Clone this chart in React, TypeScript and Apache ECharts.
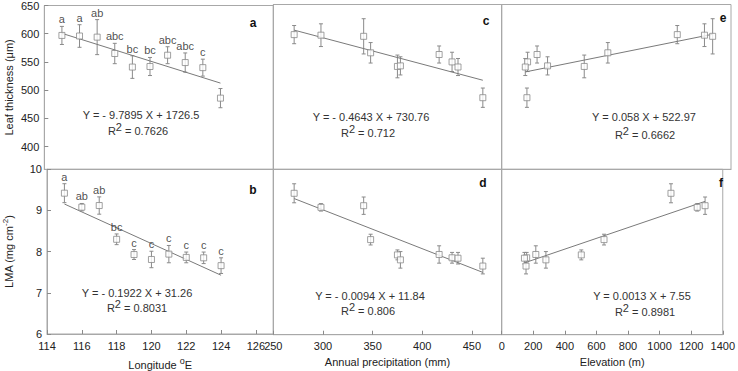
import React, { useEffect, useRef } from "react";
import * as echarts from "echarts";

// Sampling sites, ordered by longitude
const longitude = [115, 116, 117, 118, 119, 120, 121, 122, 123, 124];
const precipitation = [271, 298, 341, 348, 375, 378, 417, 430, 436, 461];
const elevation = [1072, 1238, 1288, 648, 504, 280, 216, 158, 144, 154];

// Leaf thickness (µm): mean and standard error
const thickness = [597, 596, 594, 565, 541, 542, 562, 549, 540, 486];
const thicknessErr = [16, 20, 31, 18, 20, 16, 15, 17, 15, 17];
const thicknessLetters = ["a", "a", "ab", "abc", "bc", "bc", "abc", "abc", "c", ""];

// Leaf mass per area (mg cm-2): mean and standard error
const lma = [9.42, 9.08, 9.12, 8.3, 7.93, 7.81, 7.94, 7.86, 7.85, 7.66];
const lmaErr = [0.23, 0.09, 0.21, 0.13, 0.12, 0.2, 0.21, 0.13, 0.14, 0.19];
const lmaLetters = ["a", "ab", "ab", "bc", "c", "c", "c", "c", "c", "c"];

// Linear fits, panels a–f
const panelNames = ["a", "b", "c", "d", "e", "f"];
const fitSlope = [-9.7895, -0.1922, -0.4643, -0.0094, 0.058, 0.0013];
const fitIntercept = [1726.5, 31.26, 730.76, 11.84, 522.97, 7.55];
const fitR2 = ["0.7626", "0.8031", "0.712", "0.806", "0.6662", "0.8981"];

// Axis ticks
const longitudeTicks = [114, 116, 118, 120, 122, 124, 126];
const precipitationTicks = [250, 300, 350, 400, 450];
const elevationTicks = [0, 200, 400, 600, 800, 1000, 1200, 1400];
const thicknessTicks = [400, 450, 500, 550, 600, 650];

const FONT = "Liberation Sans, Arial, sans-serif";
const GRAY = "#8a8a8a";
const BORDER = "#a8a8a8";
const TEXT = "#222";

const colLeft = [44.3, 273.3, 501.7];
const colWidth = [229, 228.4, 229.3];
const rowTop = [4.5, 169.3];
const rowHeight = [164.8, 165.4];

const xRanges = [
  [114, 127],
  [250, 480],
  [0, 1400],
];
const xTicks = [longitudeTicks, precipitationTicks, elevationTicks];
const xData = [longitude, precipitation, elevation];
const xNames = ["Longitude {s|o}E", "Annual precipitation (mm)", "Elevation (m)"];

const yData = [thickness, lma];
const yErr = [thicknessErr, lmaErr];
const yLetters = [thicknessLetters, lmaLetters];

// equation text centres and panel letter positions
const eqPos = [
  [141, 115, 138, 131],
  [137, 293, 137, 308],
  [371, 117, 368, 133],
  [370, 296, 368, 311],
  [644, 117, 645, 135],
  [642, 296, 645, 312],
];
const letterPos = [
  [253, 23],
  [253, 190],
  [486, 21],
  [483, 183],
  [723, 18],
  [721, 183],
];

function fmtEq(a: number, b: number) {
  const sa = a < 0 ? "- " + Math.abs(a) : String(a);
  return "Y = " + sa + " X + " + b;
}

export default function App() {
  const ref = useRef<HTMLDivElement>(null);

  useEffect(() => {
    document.body.style.margin = "0";
    const chart = echarts.init(ref.current!, undefined, { renderer: "svg" });

    const grids: any[] = [];
    const xAxes: any[] = [];
    const yAxes: any[] = [];
    const series: any[] = [];
    const graphics: any[] = [];

    // panel index p = col * 2 + row (a,b left; c,d middle; e,f right)
    for (let col = 0; col < 3; col++) {
      for (let row = 0; row < 2; row++) {
        const p = col * 2 + row;
        grids.push({
          left: colLeft[col],
          top: rowTop[row],
          width: colWidth[col],
          height: rowHeight[row],
          show: true,
          borderColor: BORDER,
          borderWidth: 1,
          backgroundColor: "transparent",
        });
        const bottom = row === 1;
        xAxes.push({
          type: "value",
          gridIndex: p,
          min: xRanges[col][0],
          max: xRanges[col][1],
          splitLine: { show: false },
          axisLine: { show: true, lineStyle: { color: BORDER } },
          axisTick: {
            show: bottom,
            inside: true,
            length: 4,
            lineStyle: { color: GRAY },
            customValues: xTicks[col],
          },
          axisLabel: {
            show: bottom,
            margin: 6,
            fontSize: 11,
            fontFamily: FONT,
            color: TEXT,
            customValues: xTicks[col],
            formatter: (v: number) => String(v),
            showMinLabel: true,
            showMaxLabel: true,
            hideOverlap: false,
          },
          name: bottom ? xNames[col] : "",
          nameLocation: "middle",
          nameGap: 22,
          nameTextStyle: {
            fontSize: 11,
            fontFamily: FONT,
            color: TEXT,
            rich: { s: { fontSize: 9, fontFamily: FONT, color: TEXT, padding: [0, 0, 8, 0] } },
          },
        });
        const leftCol = col === 0;
        const yAxis: any = {
          type: "value",
          gridIndex: p,
          splitLine: { show: false },
          axisLine: { show: true, lineStyle: { color: BORDER } },
          axisTick: { show: leftCol, inside: true, length: 4, lineStyle: { color: GRAY } },
          axisLabel: {
            show: leftCol,
            margin: 5,
            fontSize: 11,
            fontFamily: FONT,
            color: TEXT,
            formatter: (v: number) => String(v),
            showMinLabel: true,
            showMaxLabel: true,
          },
          nameLocation: "middle",
          nameRotate: 90,
          nameGap: 30,
          nameTextStyle: {
            fontSize: 11,
            fontFamily: FONT,
            color: TEXT,
            rich: { s: { fontSize: 8, fontFamily: FONT, color: TEXT, padding: [0, 0, 8, 0] } },
          },
        };
        if (row === 0) {
          yAxis.min = 360;
          yAxis.max = 650;
          yAxis.axisTick.customValues = thicknessTicks;
          yAxis.axisLabel.customValues = thicknessTicks;
          if (leftCol) yAxis.name = "Leaf thickness (μm)";
        } else {
          yAxis.min = 6;
          yAxis.max = 10;
          yAxis.interval = 1;
          if (leftCol) yAxis.name = "LMA (mg cm{s|-2})";
        }
        yAxes.push(yAxis);

        const xs = xData[col];
        const ys = yData[row];
        const errs = yErr[row];

        // error bars
        series.push({
          type: "custom",
          xAxisIndex: p,
          yAxisIndex: p,
          z: 2,
          itemStyle: { color: GRAY },
          data: xs.map((x, i) => [x, ys[i] - errs[i], ys[i] + errs[i]]),
          encode: { x: 0, y: [1, 2] },
          renderItem: (params: any, api: any) => {
            const x = api.value(0);
            const lo = api.coord([x, api.value(1)]);
            const hi = api.coord([x, api.value(2)]);
            const style = { stroke: GRAY, lineWidth: 1, fill: null };
            return {
              type: "group",
              children: [
                { type: "line", shape: { x1: lo[0], y1: lo[1], x2: hi[0], y2: hi[1] }, style },
                { type: "line", shape: { x1: lo[0] - 2, y1: lo[1], x2: lo[0] + 2, y2: lo[1] }, style },
                { type: "line", shape: { x1: hi[0] - 2, y1: hi[1], x2: hi[0] + 2, y2: hi[1] }, style },
              ],
            };
          },
        });

        // significance letters above the error bars (longitude panels)
        if (col === 0) {
          const letters = yLetters[row];
          series.push({
            type: "scatter",
            xAxisIndex: p,
            yAxisIndex: p,
            z: 5,
            silent: true,
            symbolSize: 1,
            itemStyle: { color: "rgba(0,0,0,0)" },
            label: {
              show: true,
              position: "top",
              distance: 1,
              fontSize: 11,
              fontFamily: FONT,
              color: TEXT,
              formatter: (prm: any) => letters[prm.dataIndex],
            },
            data: xs.map((x, i) => [x, ys[i] + errs[i]]),
          });
        }

        // fitted line across the sampled range
        const xmin = Math.min(...xs);
        const xmax = Math.max(...xs);
        series.push({
          type: "line",
          xAxisIndex: p,
          yAxisIndex: p,
          z: 3,
          symbol: "none",
          silent: true,
          lineStyle: { color: "#7a7a7a", width: 1 },
          data: [
            [xmin, fitSlope[p] * xmin + fitIntercept[p]],
            [xmax, fitSlope[p] * xmax + fitIntercept[p]],
          ],
        });

        // site means
        series.push({
          type: "scatter",
          xAxisIndex: p,
          yAxisIndex: p,
          z: 4,
          symbol: "rect",
          symbolSize: 6,
          itemStyle: { color: "#fff", borderColor: GRAY, borderWidth: 1 },
          data: xs.map((x, i) => [x, ys[i]]),
        });

        const [ex, ey, rx, ry] = eqPos[p];
        graphics.push({
          type: "text",
          x: ex,
          y: ey,
          style: {
            text: fmtEq(fitSlope[p], fitIntercept[p]),
            fill: "#333",
            font: "11px " + FONT,
            textAlign: "center",
            textVerticalAlign: "middle",
          },
        });
        graphics.push({
          type: "text",
          x: rx,
          y: ry,
          style: {
            text: "R{s|2} = " + fitR2[p],
            fill: "#333",
            font: "11px " + FONT,
            textAlign: "center",
            textVerticalAlign: "middle",
            rich: {
              s: { fontSize: 11, fontFamily: FONT, fill: "#333", padding: [0, 0, 8, 0] },
            },
          },
        });
        graphics.push({
          type: "text",
          x: letterPos[p][0],
          y: letterPos[p][1],
          style: {
            text: panelNames[p],
            fill: "#111",
            font: "bold 12px " + FONT,
            textAlign: "center",
            textVerticalAlign: "middle",
          },
        });
      }
    }

    chart.setOption({
      animation: false,
      backgroundColor: "#fff",
      grid: grids,
      xAxis: xAxes,
      yAxis: yAxes,
      series,
      graphic: graphics,
    });

    return () => chart.dispose();
  }, []);

  return (
    <div
      ref={ref}
      style={{ position: "absolute", left: 0, top: 0, width: 738, height: 371 }}
    />
  );
}
